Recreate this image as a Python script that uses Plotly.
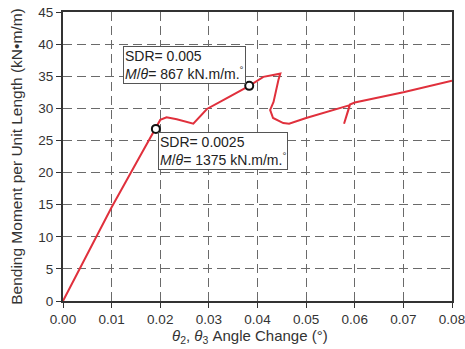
import plotly.graph_objects as go

# Curve data (angle change in degrees, moment kN·m/m)
theta = [0.0, 0.010, 0.0158, 0.0191, 0.0200, 0.0213, 0.0234, 0.0268, 0.0296, 0.0337,
         0.0383, 0.0412, 0.0436, 0.0447, 0.0443, 0.0433, 0.0426, 0.0432, 0.0453,
         0.0465, 0.0500, 0.0550, 0.0590, 0.0578, 0.0590, 0.0600, 0.0700, 0.0800]
moment = [0.0, 14.6, 22.5, 26.8, 28.2, 28.6, 28.3, 27.6, 29.9, 31.6,
          33.5, 34.9, 35.3, 35.4, 34.4, 31.0, 29.75, 28.5, 27.7,
          27.6, 28.5, 29.6, 30.5, 27.6, 30.6, 30.9, 32.5, 34.3]

# Marked points (SDR levels)
mark_theta = [0.0191, 0.0383]
mark_moment = [26.8, 33.5]
sdr_labels = ["SDR= 0.0025<br><i>M</i>/<i>θ</i>= 1375 kN.m/m.<sup>°</sup>",
              "SDR= 0.005<br><i>M</i>/<i>θ</i>= 867 kN.m/m.<sup>°</sup>"]
label_pos_x = [0.0196, 0.0124]
label_pos_y = [23.4, 36.8]

x_ticks = [0.00, 0.01, 0.02, 0.03, 0.04, 0.05, 0.06, 0.07, 0.08]
y_ticks = [0, 5, 10, 15, 20, 25, 30, 35, 40, 45]

x_title = "<i>θ</i><sub>2</sub>, <i>θ</i><sub>3</sub> Angle Change (°)"
y_title = "Bending Moment per Unit Length (kN•m/m)"

FONT = "Arial, Liberation Sans, sans-serif"
TXT = "#333333"

fig = go.Figure()
fig.add_trace(go.Scatter(x=theta, y=moment, mode="lines",
                         line=dict(color="#e0303c", width=2), hoverinfo="skip"))
fig.add_trace(go.Scatter(x=mark_theta, y=mark_moment, mode="markers",
                         marker=dict(symbol="circle", size=8, color="white",
                                     line=dict(color="#111111", width=2)),
                         hoverinfo="skip"))

for txt, ax_, ay_ in zip(sdr_labels, label_pos_x, label_pos_y):
    fig.add_annotation(x=ax_, y=ay_, text=txt, showarrow=False, xanchor="left",
                       yanchor="middle", align="left", bgcolor="white",
                       bordercolor="#555555", borderwidth=1, borderpad=1,
                       font=dict(family=FONT, size=14, color="#222222"))

# Axis titles
fig.add_annotation(xref="paper", yref="paper", x=0.481, y=-0.122, text=x_title,
                   showarrow=False, xanchor="center", yanchor="middle",
                   font=dict(family=FONT, size=15, color=TXT))
fig.add_annotation(xref="paper", yref="paper", x=-0.12, y=0.5, text=y_title,
                   showarrow=False, xanchor="center", yanchor="middle", textangle=-90,
                   font=dict(family=FONT, size=15.5, color=TXT))

axis_common = dict(showline=True, linecolor="#333333", linewidth=2, mirror=True,
                   ticks="outside", ticklen=5, tickcolor="#333333", tickwidth=1,
                   showgrid=True, gridcolor="#6a6a6a", griddash="9px,5px", gridwidth=1.2,
                   zeroline=False, automargin=False, ticklabeloverflow="allow",
                   tickfont=dict(family=FONT, size=13.5, color=TXT))

fig.update_xaxes(range=[0, 0.08], tickvals=x_ticks,
                 ticktext=[f"{v:.2f}" for v in x_ticks], **axis_common)
fig.update_yaxes(range=[0, 45], tickvals=y_ticks, **axis_common)

fig.update_layout(width=465, height=349, margin=dict(l=63, r=13, t=12, b=48),
                  plot_bgcolor="white", paper_bgcolor="white", showlegend=False,
                  font=dict(family=FONT))

fig.write_html("out.html", config={"displayModeBar": False},
               post_script="document.body.style.margin='0';document.body.style.overflow='hidden';")
